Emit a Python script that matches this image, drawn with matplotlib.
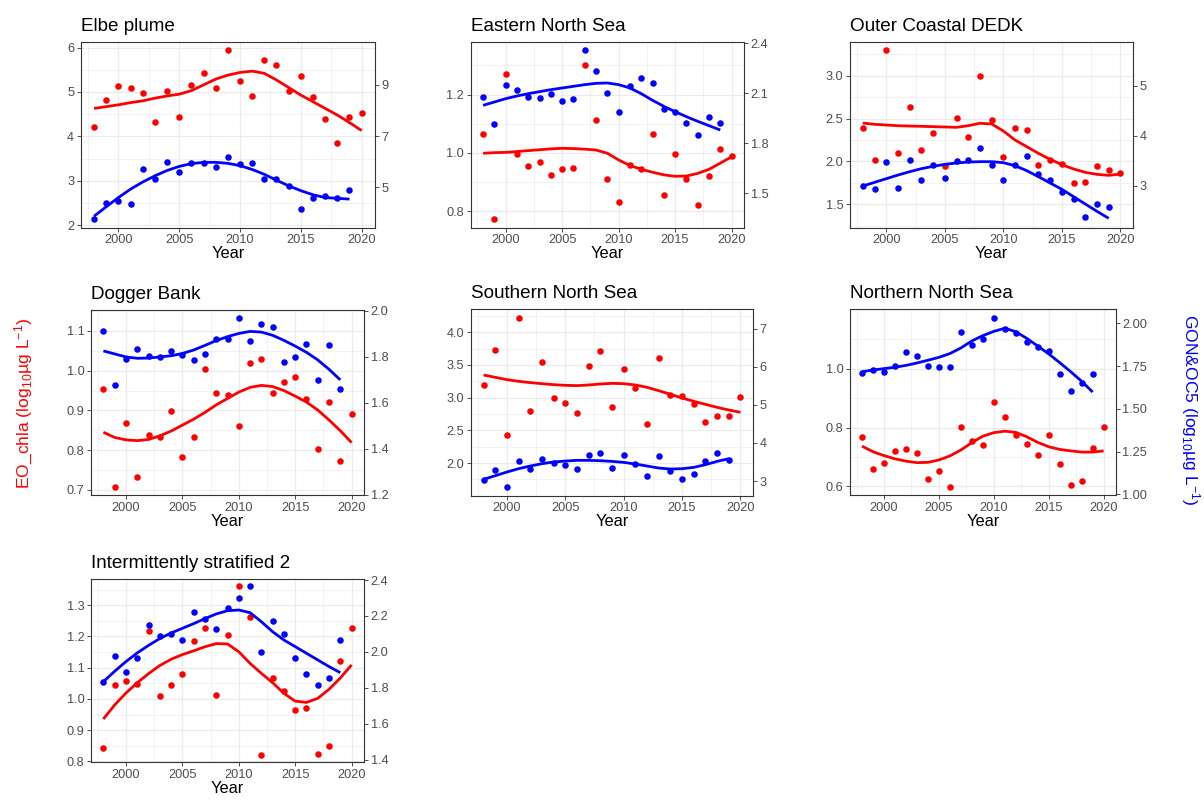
import matplotlib
matplotlib.use("Agg")
import matplotlib.pyplot as plt
from matplotlib.ticker import MultipleLocator

plt.rcParams['font.family'] = ['Liberation Sans', 'DejaVu Sans']
plt.rcParams['mathtext.fontset'] = 'custom'
plt.rcParams['mathtext.rm'] = 'Liberation Sans'
plt.rcParams['mathtext.it'] = 'Liberation Sans'

years_eo = list(range(1998, 2021))
years_gon = list(range(1998, 2020))
x_ticks = [2000, 2005, 2010, 2015, 2020]

titles = ["Elbe plume", "Eastern North Sea", "Outer Coastal DEDK", "Dogger Bank",
          "Southern North Sea", "Northern North Sea", "Intermittently stratified 2"]

# ---- Elbe plume
elbe_eo = [4.22, 4.81, 5.14, 5.10, 4.97, 4.33, 5.02, 4.43, 5.16, 5.43, 5.08, 5.95, 5.25, 4.92, 5.71, 5.61, 5.02, 5.35, 4.89, 4.38, 3.84, 4.44, 4.52]
elbe_eo_fit = [4.63, 4.67, 4.71, 4.76, 4.80, 4.86, 4.91, 4.95, 5.03, 5.16, 5.29, 5.38, 5.44, 5.47, 5.42, 5.27, 5.10, 4.93, 4.78, 4.63, 4.48, 4.31, 4.13]
elbe_gon = [3.77, 4.36, 4.44, 4.33, 5.71, 5.30, 5.99, 5.58, 5.93, 5.95, 5.80, 6.18, 5.90, 5.95, 5.33, 5.30, 5.05, 4.14, 4.57, 4.65, 4.56, 4.88]
elbe_gon_fit = [3.86, 4.23, 4.59, 4.92, 5.20, 5.44, 5.65, 5.81, 5.92, 5.97, 5.97, 5.93, 5.84, 5.69, 5.50, 5.27, 5.05, 4.86, 4.70, 4.59, 4.56, 4.53]
elbe_lticks = ["2", "3", "4", "5", "6"]
elbe_rticks = ["5", "7", "9"]

# ---- Eastern North Sea
east_eo = [1.065, 0.774, 1.269, 0.995, 0.955, 0.969, 0.926, 0.945, 0.949, 1.302, 1.114, 0.910, 0.833, 0.959, 0.944, 1.064, 0.856, 0.998, 0.911, 0.823, 0.922, 1.015, 0.991]
east_eo_fit = [0.999, 1.001, 1.002, 1.005, 1.008, 1.011, 1.014, 1.016, 1.015, 1.013, 1.010, 0.999, 0.976, 0.957, 0.944, 0.934, 0.925, 0.920, 0.921, 0.930, 0.944, 0.965, 0.987]
east_gon = [2.076, 1.918, 2.150, 2.122, 2.080, 2.074, 2.098, 2.056, 2.068, 2.360, 2.234, 2.104, 1.986, 2.144, 2.192, 2.164, 2.004, 1.988, 1.924, 1.852, 1.956, 1.924]
east_gon_fit = [2.028, 2.048, 2.068, 2.084, 2.098, 2.110, 2.122, 2.132, 2.142, 2.152, 2.160, 2.162, 2.152, 2.132, 2.098, 2.058, 2.022, 1.990, 1.960, 1.932, 1.906, 1.880]
east_lticks = ["0.8", "1.0", "1.2"]
east_rticks = ["1.5", "1.8", "2.1", "2.4"]

# ---- Outer Coastal DEDK
outer_eo = [2.393, 2.016, 3.296, 2.097, 2.630, 2.128, 2.335, 1.946, 2.506, 2.288, 2.996, 2.486, 2.054, 2.385, 2.362, 1.953, 2.016, 1.973, 1.747, 1.763, 1.942, 1.899, 1.868]
outer_eo_fit = [2.447, 2.432, 2.424, 2.416, 2.412, 2.409, 2.405, 2.401, 2.397, 2.416, 2.444, 2.436, 2.354, 2.249, 2.171, 2.093, 2.023, 1.961, 1.911, 1.872, 1.848, 1.837, 1.852]
outer_gon = [3.000, 2.933, 3.473, 2.947, 3.520, 3.113, 3.420, 3.153, 3.500, 3.507, 3.747, 3.413, 3.120, 3.420, 3.600, 3.240, 3.120, 2.880, 2.733, 2.367, 2.633, 2.573]
outer_gon_fit = [2.993, 3.067, 3.140, 3.213, 3.280, 3.340, 3.387, 3.427, 3.453, 3.473, 3.480, 3.480, 3.460, 3.400, 3.300, 3.180, 3.053, 2.927, 2.780, 2.633, 2.487, 2.347]
outer_lticks = ["1.5", "2.0", "2.5", "3.0"]
outer_rticks = ["3", "4", "5"]

# ---- Dogger Bank
dogger_eo = [0.953, 0.708, 0.869, 0.733, 0.837, 0.832, 0.898, 0.784, 0.834, 1.004, 0.945, 0.939, 0.861, 1.019, 1.029, 0.945, 0.972, 0.983, 0.929, 0.802, 0.920, 0.772, 0.891]
dogger_eo_fit = [0.845, 0.832, 0.826, 0.824, 0.827, 0.836, 0.848, 0.863, 0.878, 0.895, 0.914, 0.930, 0.946, 0.958, 0.963, 0.960, 0.950, 0.936, 0.921, 0.901, 0.876, 0.849, 0.819]
dogger_gon = [1.913, 1.678, 1.790, 1.835, 1.801, 1.797, 1.826, 1.806, 1.784, 1.812, 1.877, 1.875, 1.967, 1.868, 1.941, 1.928, 1.778, 1.799, 1.857, 1.697, 1.851, 1.661]
dogger_gon_fit = [1.825, 1.812, 1.799, 1.793, 1.794, 1.799, 1.804, 1.814, 1.829, 1.849, 1.870, 1.887, 1.901, 1.910, 1.907, 1.893, 1.871, 1.846, 1.819, 1.786, 1.745, 1.699]
dogger_lticks = ["0.7", "0.8", "0.9", "1.0", "1.1"]
dogger_rticks = ["1.2", "1.4", "1.6", "1.8", "2.0"]

# ---- Southern North Sea
south_eo = [3.194, 3.735, 2.429, 4.214, 2.796, 3.546, 2.990, 2.923, 2.765, 3.485, 3.714, 2.862, 3.434, 3.143, 2.602, 3.602, 3.041, 3.031, 2.898, 2.633, 2.724, 2.724, 3.010]
south_eo_fit = [3.347, 3.311, 3.276, 3.250, 3.230, 3.214, 3.199, 3.189, 3.184, 3.194, 3.209, 3.219, 3.214, 3.194, 3.158, 3.107, 3.051, 2.995, 2.944, 2.898, 2.852, 2.811, 2.776]
south_gon = [3.026, 3.298, 2.842, 3.525, 3.324, 3.586, 3.473, 3.411, 3.315, 3.683, 3.735, 3.350, 3.674, 3.455, 3.140, 3.648, 3.263, 3.044, 3.193, 3.525, 3.735, 3.543]
south_gon_fit = [3.044, 3.140, 3.236, 3.324, 3.394, 3.455, 3.499, 3.525, 3.543, 3.543, 3.534, 3.516, 3.490, 3.446, 3.394, 3.341, 3.315, 3.324, 3.359, 3.429, 3.516, 3.586]
south_lticks = ["2.0", "2.5", "3.0", "3.5", "4.0"]
south_rticks = ["3", "4", "5", "6", "7"]

# ---- Northern North Sea
north_eo = [0.769, 0.658, 0.681, 0.721, 0.726, 0.715, 0.627, 0.653, 0.599, 0.801, 0.756, 0.741, 0.887, 0.836, 0.775, 0.743, 0.707, 0.774, 0.675, 0.604, 0.618, 0.730, 0.801]
north_eo_fit = [0.737, 0.718, 0.705, 0.694, 0.686, 0.681, 0.682, 0.690, 0.704, 0.724, 0.749, 0.771, 0.783, 0.788, 0.784, 0.769, 0.750, 0.735, 0.726, 0.721, 0.717, 0.717, 0.721]
north_gon = [1.712, 1.729, 1.715, 1.750, 1.830, 1.811, 1.752, 1.745, 1.747, 1.947, 1.873, 1.910, 2.029, 1.969, 1.945, 1.889, 1.862, 1.836, 1.706, 1.606, 1.649, 1.706]
north_gon_fit = [1.717, 1.727, 1.735, 1.743, 1.754, 1.768, 1.784, 1.801, 1.823, 1.856, 1.897, 1.928, 1.953, 1.971, 1.951, 1.912, 1.867, 1.821, 1.770, 1.717, 1.661, 1.598]
north_lticks = ["0.6", "0.8", "1.0"]
north_rticks = ["1.00", "1.25", "1.50", "1.75", "2.00"]

# ---- Intermittently stratified 2
inter_eo = [0.843, 1.045, 1.057, 1.049, 1.216, 1.011, 1.046, 1.079, 1.186, 1.227, 1.012, 1.205, 1.360, 1.262, 0.821, 1.068, 1.024, 0.964, 0.972, 0.825, 0.849, 1.123, 1.227]
inter_eo_fit = [0.936, 0.981, 1.019, 1.052, 1.081, 1.107, 1.127, 1.142, 1.154, 1.167, 1.177, 1.176, 1.151, 1.114, 1.082, 1.052, 1.018, 0.993, 0.989, 1.002, 1.031, 1.067, 1.109]
inter_gon = [1.830, 1.979, 1.886, 1.964, 2.151, 2.090, 2.099, 2.068, 2.222, 2.181, 2.127, 2.242, 2.302, 2.365, 2.001, 2.172, 2.098, 1.964, 1.877, 1.816, 1.856, 2.066]
inter_gon_fit = [1.834, 1.892, 1.946, 1.994, 2.036, 2.074, 2.105, 2.131, 2.157, 2.185, 2.211, 2.229, 2.233, 2.218, 2.168, 2.112, 2.066, 2.029, 1.992, 1.955, 1.918, 1.884]
inter_lticks = ["0.8", "0.9", "1.0", "1.1", "1.2", "1.3"]
inter_rticks = ["1.4", "1.6", "1.8", "2.0", "2.2", "2.4"]

W, H = 1204, 801
fig = plt.figure(figsize=(W / 100, H / 100), dpi=100)

# layout: (left, right, top, bottom) in pixels, primary ylim, secondary ylim
panels = [
    ((80.7, 375, 42.3, 227.7), (1.94, 6.12), (3.41, 10.67), elbe_eo, elbe_eo_fit, elbe_gon, elbe_gon_fit, elbe_lticks, elbe_rticks),
    ((470.7, 744, 42.3, 227.7), (0.744, 1.379), (1.294, 2.406), east_eo, east_eo_fit, east_gon, east_gon_fit, east_lticks, east_rticks),
    ((850, 1133.3, 42.3, 227.7), (1.226, 3.389), (2.16, 5.867), outer_eo, outer_eo_fit, outer_gon, outer_gon_fit, outer_lticks, outer_rticks),
    ((91, 364, 310, 495), (0.6873, 1.1526), (1.1986, 2.003), dogger_eo, dogger_eo_fit, dogger_gon, dogger_gon_fit, dogger_lticks, dogger_rticks),
    ((470.7, 753.3, 309.3, 495.7), (1.5, 4.352), (2.615, 7.508), south_eo, south_eo_fit, south_gon, south_gon_fit, south_lticks, south_rticks),
    ((850, 1115.7, 309.3, 495.3), (0.570, 1.2023), (0.994, 2.082), north_eo, north_eo_fit, north_gon, north_gon_fit, north_lticks, north_rticks),
    ((91, 364, 579, 762.3), (0.7974, 1.3838), (1.385, 2.4056), inter_eo, inter_eo_fit, inter_gon, inter_gon_fit, inter_lticks, inter_rticks),
]

edge = '#333333'
tick_txt = '#4D4D4D'
grid_c = '#EBEBEB'

for title, (box, yl, yr, eo, eo_fit, gon, gon_fit, lt, rt) in zip(titles, panels):
    l, r, t, b = box
    ax = fig.add_axes([l / W, 1 - b / H, (r - l) / W, (b - t) / H])
    ax2 = ax.twinx()
    ax.set_xlim(1996.9, 2021.1)

    ax.set_xticks(x_ticks, [str(v) for v in x_ticks])
    ax.xaxis.set_minor_locator(MultipleLocator(2.5))
    lt_vals = [float(v) for v in lt]
    ax.set_yticks(lt_vals, lt)
    step = lt_vals[1] - lt_vals[0]
    ax.yaxis.set_minor_locator(MultipleLocator(step / 2))
    ax.set_ylim(*yl)
    rt_vals = [float(v) for v in rt]
    ax2.set_yticks(rt_vals, rt)
    ax2.set_ylim(*yr)

    ax.grid(True, which='major', color=grid_c, linewidth=0.9, zorder=0)
    ax.grid(True, which='minor', color=grid_c, linewidth=0.45, zorder=0)
    ax.set_axisbelow(True)
    for s in ax.spines.values():
        s.set_color(edge)
        s.set_linewidth(0.8)
    for s in ax2.spines.values():
        s.set_visible(False)
    for a in (ax, ax2):
        a.tick_params(which='major', direction='out', length=2.7, width=0.6,
                      color=edge, labelcolor=tick_txt, labelsize=9.2, pad=2)
        a.tick_params(which='minor', length=0)

    ax.scatter(years_eo, eo, s=22, color='#FF0000', linewidths=0, zorder=3)
    ax.plot(years_eo, eo_fit, color='#FF0000', linewidth=2.0, zorder=4,
            solid_joinstyle='round', solid_capstyle='butt')
    ax2.scatter(years_gon, gon, s=22, color='#0000FF', linewidths=0, zorder=3)
    ax2.plot(years_gon, gon_fit, color='#0000FF', linewidth=2.0, zorder=4,
             solid_joinstyle='round', solid_capstyle='butt')

    ax.set_title(title, loc='left', fontsize=13.6, pad=8, color='black')
    ax.set_xlabel('Year', fontsize=11.8, labelpad=0, color='black')

fig.text(24 / W, 1 - 403 / H, 'EO_chla (log$_{10}$µg L$^{-1}$)', color='#FF0000',
         rotation=90, ha='center', va='center', fontsize=12.6)
fig.text(1190 / W, 1 - 410 / H, 'GON&OC5 (log$_{10}$µg L$^{-1}$)', color='#0000FF',
         rotation=270, ha='center', va='center', fontsize=12.6)

fig.savefig('out.png', dpi=100, facecolor='white')
